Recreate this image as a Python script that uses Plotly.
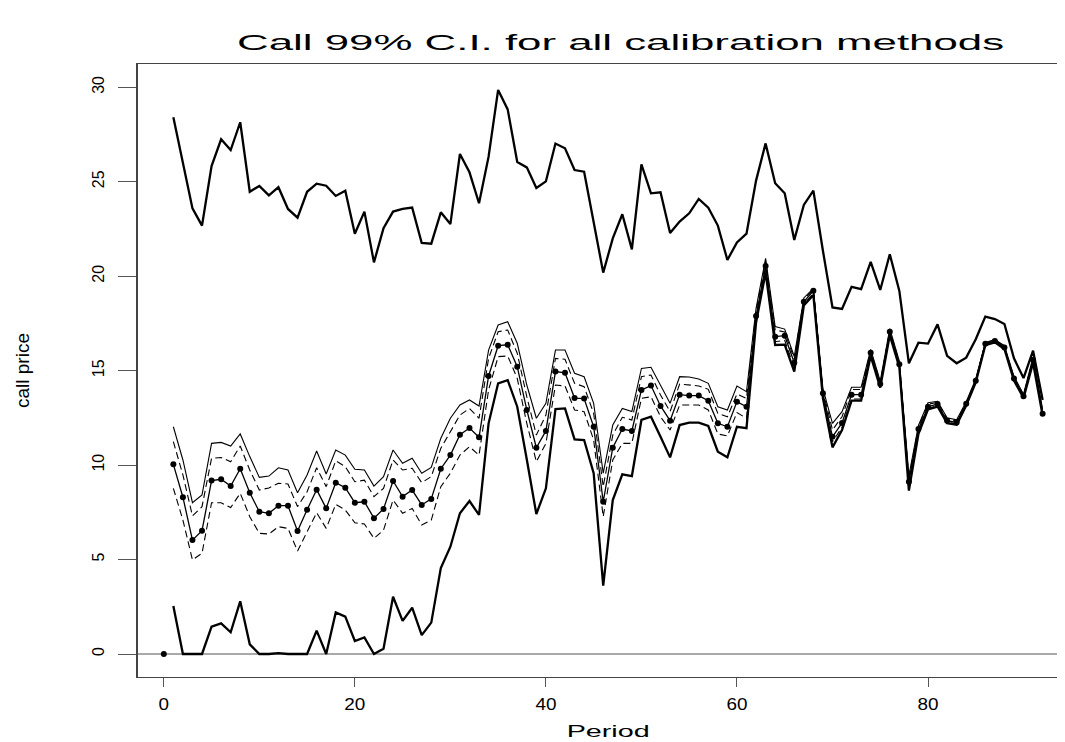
import plotly.graph_objects as go

# ---------------- data ----------------
periods = list(range(1, 93))

upper_wide = [28.41, 25.90, 23.59, 22.68, 25.83, 27.25, 26.68, 28.15, 24.47, 24.78,
              24.28, 24.71, 23.56, 23.10, 24.47, 24.90, 24.79, 24.25, 24.53, 22.25,
              23.42, 20.73, 22.54, 23.42, 23.56, 23.63, 21.76, 21.72, 23.38, 22.76,
              26.47, 25.50, 23.86, 26.33, 29.86, 28.83, 26.05, 25.76, 24.67, 25.02,
              27.02, 26.77, 25.62, 25.53, 22.85, 20.19, 22.00, 23.28, 21.42, 25.92,
              24.39, 24.44, 22.29, 22.89, 23.33, 24.09, 23.63, 22.68, 20.86, 21.79,
              22.25, 25.06, 27.03, 24.92, 24.39, 21.92, 23.77, 24.53, 21.35, 18.35,
              18.27, 19.44, 19.31, 20.76, 19.27, 21.16, 19.22, 15.39, 16.48, 16.43,
              17.45, 15.78, 15.39, 15.69, 16.66, 17.86, 17.73, 17.47, 15.65, 14.61,
              16.06, 13.45]

lower_wide = [2.54, 0.00, 0.00, 0.00, 1.45, 1.62, 1.15, 2.79, 0.51, 0.00,
              0.00, 0.05, 0.00, 0.00, 0.00, 1.24, 0.00, 2.20, 1.98, 0.69,
              0.88, 0.00, 0.28, 3.03, 1.75, 2.45, 1.00, 1.66, 4.55, 5.68,
              7.45, 8.10, 7.36, 12.21, 14.33, 14.50, 13.09, 10.30, 7.41, 8.77,
              12.97, 13.00, 11.36, 11.33, 9.57, 3.62, 8.15, 9.51, 9.42, 12.39,
              12.56, 11.50, 10.41, 12.12, 12.25, 12.25, 12.07, 10.71, 10.41, 12.03,
              11.96, 17.55, 20.20, 16.36, 16.38, 14.95, 18.45, 19.00, 13.55, 10.94,
              11.86, 13.41, 13.41, 15.78, 14.10, 16.88, 15.18, 8.65, 11.65, 12.95,
              13.10, 12.22, 12.14, 13.15, 14.38, 16.35, 16.50, 16.15, 14.48, 13.55,
              15.42, 12.62]

upper_solid = [12.03, 10.27, 8.01, 8.42, 11.15, 11.20, 11.01, 11.65, 10.45, 9.35,
               9.42, 9.86, 9.74, 8.54, 9.48, 10.75, 9.53, 10.80, 10.53, 9.78,
               9.74, 8.89, 9.39, 10.80, 10.10, 10.36, 9.57, 9.88, 11.42, 12.48,
               13.18, 13.45, 13.13, 16.09, 17.42, 17.59, 16.45, 14.24, 12.48, 13.27,
               16.09, 16.09, 14.86, 14.68, 13.27, 9.57, 12.12, 13.00, 12.83, 15.12,
               15.18, 14.24, 13.27, 14.68, 14.66, 14.56, 14.33, 13.09, 12.92, 14.19,
               13.89, 18.30, 20.94, 17.33, 17.20, 15.75, 18.85, 19.36, 14.05, 12.21,
               12.83, 14.12, 14.12, 16.12, 14.45, 17.22, 15.50, 9.45, 12.10, 13.30,
               13.38, 12.50, 12.40, 13.35, 14.56, 16.50, 16.65, 16.32, 14.70, 13.75,
               15.72, 12.95]

upper_dashed = [11.24, 9.48, 7.31, 7.80, 10.36, 10.40, 10.18, 11.01, 9.74, 8.68,
                8.79, 9.04, 9.00, 7.80, 8.59, 9.86, 8.86, 10.23, 9.92, 9.12,
                9.20, 8.33, 8.77, 10.27, 9.74, 9.83, 9.07, 9.39, 10.89, 11.77,
                12.65, 13.00, 12.48, 15.65, 17.06, 17.15, 15.92, 13.62, 11.59, 12.65,
                15.65, 15.60, 14.33, 14.15, 12.74, 8.86, 11.59, 12.53, 12.39, 14.68,
                14.77, 13.71, 12.83, 14.29, 14.24, 14.19, 14.01, 12.74, 12.56, 13.76,
                13.53, 18.12, 20.78, 17.15, 17.05, 15.62, 18.78, 19.30, 13.95, 11.86,
                12.56, 14.00, 14.00, 16.05, 14.38, 17.15, 15.43, 9.30, 12.02, 13.22,
                13.32, 12.44, 12.34, 13.30, 14.52, 16.47, 16.61, 16.28, 14.64, 13.70,
                15.65, 12.85]

lower_dashed = [8.77, 7.09, 4.98, 5.33, 8.01, 8.01, 7.75, 8.51, 7.27, 6.39,
                6.35, 6.74, 6.65, 5.45, 6.47, 7.48, 6.65, 7.92, 7.62, 6.95,
                6.88, 6.12, 6.56, 8.15, 7.45, 7.71, 6.83, 7.09, 8.86, 9.57,
                10.53, 10.97, 10.53, 13.98, 15.74, 15.78, 14.59, 12.21, 10.18, 11.15,
                14.24, 14.19, 12.92, 12.83, 11.33, 7.27, 10.27, 11.15, 11.15, 13.53,
                13.62, 12.56, 11.86, 13.18, 13.18, 13.18, 12.92, 11.65, 11.54, 12.78,
                12.48, 17.68, 20.32, 16.53, 16.60, 15.15, 18.52, 19.10, 13.65, 11.24,
                12.00, 13.50, 13.50, 15.85, 14.18, 16.95, 15.25, 8.85, 11.75, 13.00,
                13.15, 12.27, 12.19, 13.20, 14.42, 16.38, 16.53, 16.18, 14.52, 13.58,
                15.48, 12.66]

estimate = [10.04, 8.30, 6.03, 6.53, 9.18, 9.25, 8.89, 9.81, 8.54, 7.53,
            7.45, 7.85, 7.85, 6.51, 7.64, 8.70, 7.71, 9.07, 8.80, 8.01,
            8.06, 7.19, 7.68, 9.16, 8.33, 8.68, 7.89, 8.21, 9.81, 10.53,
            11.61, 11.96, 11.47, 14.72, 16.32, 16.37, 15.21, 12.92, 10.92, 11.81,
            14.95, 14.89, 13.55, 13.52, 12.03, 8.06, 10.92, 11.91, 11.81, 13.98,
            14.21, 13.13, 12.35, 13.73, 13.68, 13.68, 13.41, 12.21, 12.03, 13.36,
            13.09, 17.89, 20.54, 16.80, 16.85, 15.42, 18.65, 19.23, 13.80, 11.50,
            12.23, 13.73, 13.73, 15.95, 14.29, 17.06, 15.34, 9.12, 11.91, 13.09,
            13.23, 12.35, 12.26, 13.25, 14.47, 16.43, 16.57, 16.23, 14.58, 13.64,
            15.56, 12.72]

start_period = [0]
start_value = [0.0]

x_ticks = [0, 20, 40, 60, 80]
y_ticks = [0, 5, 10, 15, 20, 25, 30]

title_text = "Call 99% C.I. for all calibration methods"
x_title = "Period"
y_title = "call price"

# ---------------- geometry ----------------
OFF = 8                      # page body margin around the plot div
W, H = 1065 - OFF, 742 - OFF
ML, MT = 138 - OFF, 64 - OFF
PLOT_BOTTOM = 677 - OFF
MR, MB = 0, H - PLOT_BOTTOM
PW, PH = W - ML - MR, H - MT - MB

# data -> page pixel calibration
x0_px, x_unit = 163.8 - OFF, 9.5525
y0_px, y_unit = 654.0 - OFF, 18.89
x_range = [(ML - x0_px) / x_unit, (W - MR - x0_px) / x_unit]
y_range = [(y0_px - PLOT_BOTTOM) / y_unit, (y0_px - MT) / y_unit]

def px_x(page_x):
    return (page_x - OFF - ML) / PW

def px_y(page_y):
    return (PLOT_BOTTOM - (page_y - OFF)) / PH

FONT = "Liberation Sans, Arial, Helvetica, sans-serif"
INK = "#000000"

fig = go.Figure()

fig.add_trace(go.Scatter(x=periods, y=upper_wide, mode="lines",
                         line=dict(color=INK, width=2.3), hoverinfo="skip"))
fig.add_trace(go.Scatter(x=periods, y=lower_wide, mode="lines",
                         line=dict(color=INK, width=2.3), hoverinfo="skip"))
fig.add_trace(go.Scatter(x=periods, y=upper_solid, mode="lines",
                         line=dict(color=INK, width=1.1), hoverinfo="skip"))
fig.add_trace(go.Scatter(x=periods, y=upper_dashed, mode="lines",
                         line=dict(color=INK, width=1.1, dash="7px,4px"), hoverinfo="skip"))
fig.add_trace(go.Scatter(x=periods, y=lower_dashed, mode="lines",
                         line=dict(color=INK, width=1.1, dash="7px,4px"), hoverinfo="skip"))
fig.add_trace(go.Scatter(x=periods, y=estimate, mode="lines+markers",
                         line=dict(color=INK, width=1.3),
                         marker=dict(color=INK, size=6, symbol="circle"), hoverinfo="skip"))
fig.add_trace(go.Scatter(x=start_period, y=start_value, mode="markers",
                         marker=dict(color=INK, size=6, symbol="circle"), hoverinfo="skip"))

fig.add_shape(type="line", xref="paper", yref="y", x0=0, x1=1, y0=0, y1=0,
              line=dict(color="#555555", width=1), layer="below")

fig.update_layout(
    width=W, height=H,
    margin=dict(l=ML, r=MR, t=MT, b=MB, pad=0),
    paper_bgcolor="white", plot_bgcolor="white",
    showlegend=False,
    font=dict(family=FONT, color=INK, size=16),
    xaxis=dict(range=x_range, tickvals=x_ticks, ticktext=[str(v) for v in x_ticks],
               ticks="outside", ticklen=9, tickwidth=1, tickcolor="#555555",
               showline=True, linecolor="#444444", linewidth=1, mirror=True,
               showgrid=False, zeroline=False, tickfont=dict(size=16),
               ticklabelstandoff=4),
    yaxis=dict(range=y_range, tickvals=y_ticks, ticktext=[str(v) for v in y_ticks],
               ticks="outside", ticklen=18, tickwidth=1, tickcolor="#555555",
               showline=True, linecolor="#444444", linewidth=1.5, mirror=False,
               showgrid=False, zeroline=False, tickangle=-90, tickfont=dict(size=16),
               ticklabelstandoff=8),
    annotations=[
        dict(text=title_text, xref="paper", yref="paper",
             x=px_x(620), y=px_y(42), xanchor="center", yanchor="middle",
             showarrow=False, font=dict(size=22, family=FONT)),
        dict(text=x_title, xref="paper", yref="paper",
             x=px_x(608), y=px_y(731), xanchor="center", yanchor="middle",
             showarrow=False, font=dict(size=16, family=FONT)),
        dict(text=y_title, xref="paper", yref="paper",
             x=px_x(22), y=px_y(371), xanchor="center", yanchor="middle",
             textangle=-90, showarrow=False, font=dict(size=19, family=FONT)),
    ],
)

# The reference lettering is drawn wide; stretch the horizontal texts to the
# widths measured on the reference (the texts stay real SVG text).
post = """
var gd = document.getElementById('{plot_id}');
var widths = {'Call 99% C.I. for all calibration methods': 767, 'Period': 83};
gd.querySelectorAll('text.annotation-text').forEach(function(t){
  var w = widths[t.textContent];
  if (w) { t.setAttribute('textLength', w); t.setAttribute('lengthAdjust', 'spacingAndGlyphs'); }
});
gd.querySelectorAll('g.xtick text').forEach(function(t){
  var n = t.textContent.length;
  t.setAttribute('textLength', n * 10.5);
  t.setAttribute('lengthAdjust', 'spacingAndGlyphs');
});
"""

fig.write_html("out.html", post_script=post)
